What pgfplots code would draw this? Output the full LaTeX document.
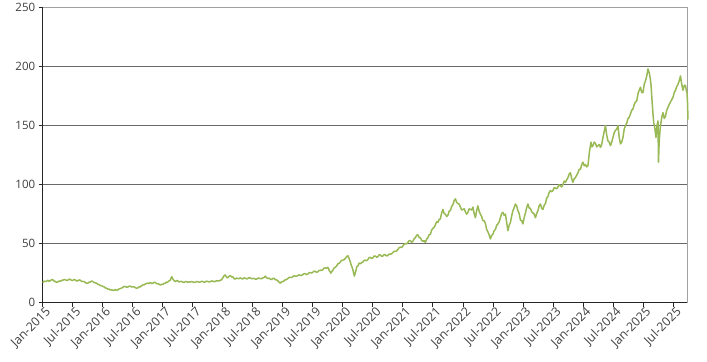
\documentclass[border=0pt]{standalone}
\usepackage{pgfplots}
\pgfplotsset{compat=1.18}
\usepackage{fontspec}
\setmainfont{Open Sans}
\definecolor{lineg}{RGB}{152,185,84}
\definecolor{txt}{RGB}{64,64,64}
\definecolor{gridc}{RGB}{105,105,105}
\definecolor{bord}{RGB}{160,160,160}
\begin{document}
\begin{tikzpicture}
\begin{axis}[
  scale only axis,
  width=645pt, height=295pt,
  xmin=0, xmax=129, ymin=0, ymax=250,
  axis x line*=bottom, axis y line*=left,
  axis line style={black!85, line width=0.9pt},
  xtick={0,6,...,126},
  xticklabels={Jan-2015,Jul-2015,Jan-2016,Jul-2016,Jan-2017,Jul-2017,Jan-2018,Jul-2018,Jan-2019,Jul-2019,Jan-2020,Jul-2020,Jan-2021,Jul-2021,Jan-2022,Jul-2022,Jan-2023,Jul-2023,Jan-2024,Jul-2024,Jan-2025,Jul-2025},
  ytick={0,50,...,250},
  tick align=outside, major tick length=4pt,
  tick style={black!85, line width=0.8pt},
  ymajorgrids, grid style={gridc, line width=0.9pt},
  xticklabel style={rotate=45, anchor=north east, font=\fontsize{12.3}{13}\selectfont, text=txt, inner sep=1pt, xshift=3pt},
  yticklabel style={font=\fontsize{11.5}{12}\selectfont, text=txt},
  /pgf/number format/assume math mode=true,
  clip=false,
]
\draw[bord, line width=1pt] (rel axis cs:1,0) -- (rel axis cs:1,1);
\draw[bord, line width=1pt] (rel axis cs:0,1) -- (rel axis cs:1,1);
\addplot[lineg, line width=1.5pt, line join=round] coordinates {
(0,17) (0.25,18.2) (0.5,18) (0.75,18.1) (1,19) (1.25,18.3) (1.5,18.5) (1.75,19.4) (2,19.5) (2.25,18.4) (2.5,18) (2.75,17.2) (3,17.5) (3.25,18.4) (3.5,18) (3.75,18.9) (4,19) (4.25,19.6) (4.5,19.5) (4.75,18.8) (5,19) (5.25,19.9) (5.5,19.8) (5.75,19.0) (6,18.8) (6.25,19.6) (6.5,19.3) (6.75,18.5) (7,18.5) (7.25,19.3) (7.5,19) (7.75,18.1) (8,18) (8.25,17.9) (8.5,17.2) (8.75,16.4) (9,16.5) (9.25,17.4) (9.5,17.5) (9.75,18.3) (10,18) (10.25,17) (10.5,16.8) (10.75,16.6) (11,15.5) (11.25,15.4) (11.5,14.5) (11.75,14.5) (12,13.8) (12.25,13.5) (12.5,12.5) (12.75,12.3) (13,11.5) (13.25,11.5) (13.5,10.8) (13.75,11) (14,10.5) (14.25,10.5) (14.5,11.2) (14.75,10.6) (15,10.8) (15.25,11.7) (15.5,12) (15.75,12.3) (16,13) (16.25,13.6) (16.5,13.8) (16.75,13.2) (17,13.2) (17.25,13.9) (17.5,14) (17.75,13.4) (18,13.5) (18.25,13.4) (18.5,12.8) (18.75,12.2) (19,12.5) (19.25,13.4) (19.5,13.3) (19.75,14.3)
(20,15) (20.25,15.1) (20.5,15.8) (20.75,16.4) (21,16.5) (21.25,16.3) (21.5,17) (21.75,16.4) (22,16.3) (22.25,17.3) (22.5,17.2) (22.75,16.2) (23,16) (23.25,15.7) (23.5,15) (23.75,15.5) (24,15.5) (24.25,16.4) (24.5,16.5) (24.75,17.4) (25,17.5) (25.25,18.5) (25.5,19) (25.65,20.8) (25.8,22) (26,20.2) (26.2,19) (26.35,18.2) (26.5,18) (26.75,18.7) (27,18.5) (27.25,17.6) (27.5,17.8) (27.75,18.1) (28,17.5) (28.25,17.2) (28.5,17.8) (28.75,17.9) (29,17.2) (29.25,17.6) (29.5,17.5) (29.75,17.9) (30,17.6) (30.25,17.2) (30.5,17.3) (30.75,17.9) (31,17.8) (31.25,17.3) (31.5,17.5) (31.75,18.1) (32,17.9) (32.25,17.4) (32.5,17.6) (32.75,18.2) (33,18) (33.25,17.6) (33.5,17.8) (33.75,18.4) (34,18.3) (34.25,17.8) (34.5,18) (34.75,18.6) (35,18.5) (35.25,18.4) (35.5,19) (35.75,19.4)
(36,21) (36.25,22.8) (36.5,23.5) (36.75,21.6) (37,21) (37.25,22.4) (37.5,23) (37.75,21.8) (38,22) (38.25,20.4) (38.5,20) (38.75,20.9) (39,20.5) (39.25,20.4) (39.5,21) (39.75,20.4) (40,20.2) (40.25,21) (40.5,20.8) (40.75,20.1) (41,20.5) (41.25,21.2) (41.5,21) (41.75,20.3) (42,20.4) (42.25,20.6) (42.5,20) (42.75,19.9) (43,20.6) (43.25,20.9) (43.5,20.3) (43.75,20.3) (44,21) (44.25,21.3) (44.5,22.5) (44.75,21.1) (45,20.5) (45.25,20.8) (45.5,20) (45.75,19.6) (46,20.5) (46.25,20.7) (46.5,19.5) (46.75,19.3) (47,18.5) (47.25,17.4) (47.5,16.5) (47.75,17.6) (48,18) (48.25,18.4) (48.5,19.5) (48.75,19.6) (49,20.5) (49.25,21.4) (49.5,21.5) (49.75,21.3) (50,22) (50.25,22.8) (50.5,22.5) (50.75,22.4) (51,23) (51.25,23.6) (51.5,23.2) (51.75,23.2) (52,23.8) (52.25,24.6) (52.5,24.5) (52.75,23.8) (53,24.2) (53.25,25.4) (53.5,25.5) (53.75,25.1)
(54,25.8) (54.25,26.7) (54.5,26.5) (54.75,25.7) (55,26.2) (55.25,27.3) (55.5,27.5) (55.75,27.3) (56,28) (56.25,29.3) (56.5,29.5) (56.75,29.2) (57,30) (57.15,28.8) (57.3,27) (57.45,26.2) (57.6,25) (57.8,26.4) (58,27.5) (58.25,29.4) (58.5,30) (58.75,31) (59,33) (59.25,33.3) (59.5,34.5) (59.75,35.8) (60,36) (60.25,36.4) (60.5,37.5) (60.75,39) (61,39.8) (61.3,37) (61.6,33) (62,28) (62.3,22.5) (62.6,27) (62.8,30.5) (63,31) (63.25,33.5) (63.5,33) (63.75,33.8) (64,34.5) (64.25,35.8) (64.5,36) (64.75,35.5) (65,36.5) (65.25,38.2) (65.5,38.4) (65.75,37.4) (66,38) (66.25,39.5) (66.5,39.5) (66.75,38.5) (67,39) (67.25,40.5) (67.5,40.5) (67.75,39.2) (68,39.5) (68.25,40.8) (68.5,40.5) (68.75,39.6) (69,40) (69.25,41.2) (69.5,41) (69.75,41.4) (70,42.5) (70.25,43.6) (70.5,43.5) (70.75,43.8) (71,45) (71.25,46.6) (71.5,47) (71.75,46.8)
(72,48) (72.25,49.6) (72.5,50) (72.75,49.8) (73,51) (73.25,52.5) (73.5,52.5) (73.75,51.2) (74,52) (74.25,54.2) (74.5,55) (74.75,57.2) (75,57.5) (75.25,55.2) (75.5,55) (75.75,52.8) (76,52) (76.25,52.6) (76.5,51) (76.75,53.8) (77,55) (77.25,57.5) (77.5,58) (77.75,61.5) (78,63) (78.25,63.8) (78.5,66) (78.75,68.5) (79,68) (79.25,70.5) (79.5,71) (79.75,76) (80,79) (80.25,75.5) (80.5,75) (80.75,73) (81,74) (81.25,77.5) (81.5,78) (81.75,81.5) (82,83) (82.25,86.5) (82.5,88) (82.75,85) (83,84) (83.25,83.5) (83.5,81) (83.75,78.5) (84,79) (84.25,79.5) (84.5,77) (84.75,75) (85,76.5) (85.25,79.5) (85.5,79) (85.75,78.5) (86,81) (86.25,75.5) (86.5,72) (86.75,78) (87,82) (87.25,77.5) (87.5,75) (87.75,73) (88,69.5) (88.25,69.5) (88.5,67) (88.75,62) (89,60) (89.25,57.5) (89.5,54) (89.75,57)
(90,58) (90.25,61) (90.5,62) (90.75,65.5) (91,66.7) (91.25,68.5) (91.5,72) (91.75,75.5) (92,76.5) (92.25,74) (92.5,75) (92.75,68) (93,61) (93.25,65.5) (93.5,68) (93.75,73.5) (94,78) (94.25,80.5) (94.5,83.6) (94.75,82) (95,78) (95.25,75.5) (95.5,70) (95.75,69.5) (96,66.7) (96.25,72) (96.5,76) (96.75,80.5) (97,83.6) (97.25,80) (97.5,80) (97.75,77) (98,76) (98.25,75) (98.5,72) (98.75,75.5) (99,78) (99.25,82) (99.5,83.6) (99.75,80) (100,79) (100.25,82.5) (100.5,84) (100.75,88.5) (101,90) (101.25,93.5) (101.5,95) (101.75,94) (102,95) (102.25,97.5) (102.5,97) (102.75,96.5) (103,98) (103.25,100) (103.5,99) (103.75,98) (104,100) (104.25,103) (104.5,102) (104.75,104) (105,106) (105.25,109) (105.5,110) (105.75,105) (106,102) (106.25,105) (106.5,106) (106.75,108) (107,110) (107.25,113) (107.5,113) (107.75,117)
(108,119) (108.25,116) (108.5,117) (108.75,115) (109,116) (109.3,128) (109.6,136) (109.8,132) (110,133) (110.25,136) (110.5,135) (110.75,132) (111,133) (111.25,134) (111.5,131.6) (111.75,134) (112,140) (112.25,145) (112.5,150) (112.75,142) (113,137) (113.25,136) (113.5,133) (113.75,136) (114,140) (114.25,144) (114.5,146) (114.75,147) (115,150) (115.25,140) (115.5,134.5) (115.75,136) (116,140) (116.25,147) (116.5,150) (116.75,152) (117,156) (117.25,157) (117.5,160) (117.75,163) (118,164) (118.25,168) (118.5,170) (118.75,171) (119,177) (119.25,180) (119.5,182.5) (119.75,178) (120,178) (120.25,185) (120.5,188) (120.75,192) (121,198) (121.15,196) (121.3,194) (121.45,190) (121.6,185) (121.8,172) (122,160) (122.15,152) (122.3,150) (122.45,145) (122.6,140) (122.8,150) (123,154) (123.1,119) (123.2,132) (123.3,140) (123.45,148) (123.6,152.8) (123.8,158) (124,161) (124.25,156) (124.5,158) (124.75,163) (125,165.5) (125.25,168) (125.5,170) (125.75,172) (126,174) (126.25,178) (126.5,180) (126.75,183) (127,185) (127.25,188) (127.5,192) (127.75,185) (128,180) (128.25,184) (128.5,184) (128.65,180) (128.8,178) (128.9,170) (129,155)
};
\end{axis}
\path ([shift={(-42.7pt,-59pt)}]current axis.south west) rectangle ([shift={(19pt,7pt)}]current axis.north east);
\end{tikzpicture}
\end{document}
